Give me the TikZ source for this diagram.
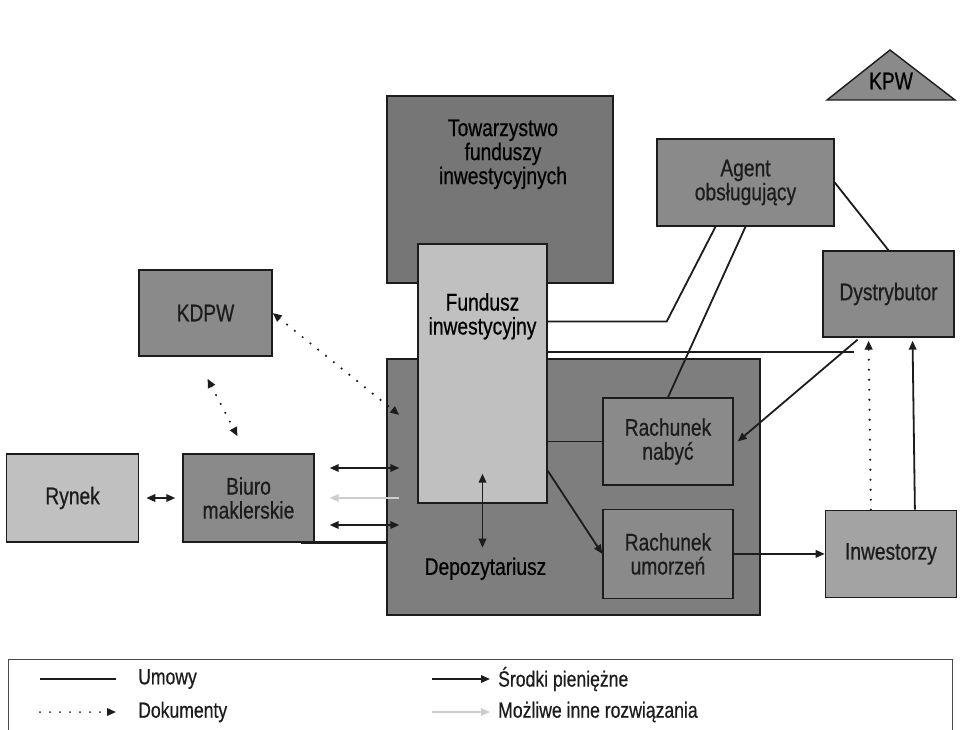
\documentclass[tikz,border=0pt]{standalone}
\usepackage{fontspec}
\setmainfont[FakeStretch=0.8, FakeBold=0.6]{Liberation Sans}
\usepackage{tikz}
\usetikzlibrary{positioning, arrows.meta}

\definecolor{dark_gray}{RGB}{118,118,118}
\definecolor{depo_gray}{RGB}{126,126,126}
\definecolor{mid_gray}{RGB}{138,138,138}
\definecolor{light_gray}{RGB}{192,192,192}
\definecolor{inw_gray}{RGB}{163,163,163}
\definecolor{alt_gray}{RGB}{205,205,205}
\definecolor{ink}{RGB}{28,28,28}

\begin{document}
\begin{tikzpicture}[
    x=1pt, y=-1pt, % pixel-like grid, y down
    font=\fontsize{24}{24}\selectfont,
    % --- STYLES ---
    base_node/.style={draw=ink, line width=1.4pt, align=center, text=ink, inner sep=0pt},
    box/.style={base_node, fill=mid_gray, minimum width=131pt, minimum height=87pt},
    light_box/.style={base_node, fill=light_gray},
    dark_box/.style={base_node, fill=dark_gray},
    account/.style={box, minimum width=130pt},
    contract/.style={draw=ink, line width=1.8pt},
    money/.style={draw=ink, line width=1.8pt},
    doc/.style={draw=ink, line width=2.4pt, line cap=round, dash pattern=on 0pt off 10pt},
    alt/.style={draw=alt_gray, line width=1.8pt},
    legend_text/.style={inner sep=0pt, anchor=west, text=ink, font=\fontsize{22}{22}\selectfont},
    >={Triangle[length=9pt, width=7.5pt]}
]
\useasboundingbox (0,0) rectangle (960,730);

% --- BACK BOXES ---
\node (tfi) [dark_box, minimum width=226pt, minimum height=187pt] at (500,189.5) {};
\node (depo) [base_node, fill=depo_gray, minimum width=373pt, minimum height=256pt] at (573.5,487) {};
\node (fundusz) [light_box, minimum width=129pt, minimum height=259pt] at (482.5,373.5) {};
\node (tfi_text) [align=center] at ([xshift=3pt, yshift=-59pt]tfi.north) {Towarzystwo\\funduszy\\inwestycyjnych};
\node (fundusz_text) [align=center] at ([yshift=-73pt]fundusz.north) {Fundusz\\inwestycyjny};
\node (depo_text) at ([xshift=-88pt, yshift=47pt]depo.south) {Depozytariusz};

% --- ACCOUNTS (inside Depozytariusz) ---
\node (nabyc) [account] at (668,441.5) {Rachunek\\nabyć};
\node (umorzen) [account, minimum height=89pt, below=23pt of nabyc] {Rachunek\\umorzeń};

% --- RIGHT SIDE ---
\node (inwestorzy) [box, fill=inw_gray, right=91pt of umorzen] {Inwestorzy};
\node (dystr) [box, minimum height=86pt] at (888.5,294) {Dystrybutor};
\node (agent) [box, minimum width=177pt] at (745.5,182.5) {Agent\\obsługujący};
\filldraw [fill=mid_gray, draw=ink, line width=1.4pt] (827,100) -- (890,50) -- (955,100) -- cycle;
\node (kpw) at (891,81) {KPW};

% --- LEFT SIDE ---
\node (kdpw) [box, minimum width=133pt, minimum height=86pt] at (205.5,313) {KDPW};
\node (biuro) [box, minimum height=88pt] at (248.5,498) {Biuro\\maklerskie};
\node (rynek) [light_box, minimum width=132pt, minimum height=88pt, left=43pt of biuro] {Rynek};

% Edges
\draw [doc, <->] (kdpw.east) -- ([xshift=13pt, yshift=72pt]depo.west);
\draw [doc, <->] ([xshift=2pt, yshift=-22pt]kdpw.south) -- ([xshift=-11pt, yshift=17pt]biuro.north);
\draw [money, <->, shorten <=7pt, shorten >=7pt] (rynek.east) -- (biuro.west);
\coordinate (bd_top) at ([yshift=30pt]biuro.east);
\coordinate (bd_low) at ([yshift=-27pt]biuro.east);
\draw [money, <->, shorten <=15pt, shorten >=-13pt] (bd_top) -- (bd_top -| depo.west);
\draw [alt, <-, shorten <=15pt, shorten >=-13pt] (biuro.east) -- (biuro.east -| depo.west);
\draw [money, <->, shorten <=15pt, shorten >=-13pt] (bd_low) -- (bd_low -| depo.west);
\draw [contract, line width=3pt] ([xshift=-14pt]biuro.south east) -- (biuro.south east -| depo.west);
\draw [money, <->] ([yshift=30pt]fundusz.south) -- ([yshift=-44pt]fundusz.south);

\draw [contract] ([yshift=52pt]fundusz.east) -- ++(119,0) -- ([xshift=-30pt]agent.south);
\coordinate (dystr_end) at ([xshift=-35pt, yshift=-14pt]dystr.south);
\draw [contract] (fundusz.east |- dystr_end) -- (dystr_end);
\draw [contract] (agent.south) -- (nabyc.north);
\draw [contract] (agent.east) -- (dystr.north);
\draw [money, ->] ([xshift=-31pt, yshift=-2pt]dystr.south) -- ([xshift=4pt]nabyc.east);
\draw [doc, ->, shorten >=3pt] ([xshift=-20pt]inwestorzy.north) -- ([xshift=-20pt]dystr.south);
\draw [money, ->, shorten >=3pt] ([xshift=24pt]inwestorzy.north) -- ([xshift=24pt]dystr.south);
\draw [money, ->] (umorzen.east) -- (inwestorzy.west);
\draw [contract] (nabyc.west -| fundusz.east) -- (nabyc.west);
\draw [money, ->] ([yshift=33pt]fundusz.south east) -- (umorzen.west);

% --- LEGEND ---
\draw [draw=ink!80, line width=1pt] (8,740) -- (8,659) -- (952,659) -- (952,740);
\node (leg_umowy) [legend_text] at (138,679) {Umowy};
\node (leg_dok) [legend_text] at (138,712) {Dokumenty};
\node (leg_srodki) [legend_text] at (498,679) {Środki pieniężne};
\node (leg_inne) [legend_text] at (498,712) {Możliwe inne rozwiązania};
\draw [contract, shorten >=22pt] ([xshift=-98pt]leg_umowy.west) -- (leg_umowy.west);
\draw [doc, ->, line width=2pt, shorten >=22pt] ([xshift=-98pt]leg_dok.west) -- (leg_dok.west);
\draw [money, ->, shorten >=8pt] ([xshift=-66pt]leg_srodki.west) -- (leg_srodki.west);
\draw [alt, ->, shorten >=8pt] ([xshift=-66pt]leg_inne.west) -- (leg_inne.west);

\end{tikzpicture}
\end{document}
